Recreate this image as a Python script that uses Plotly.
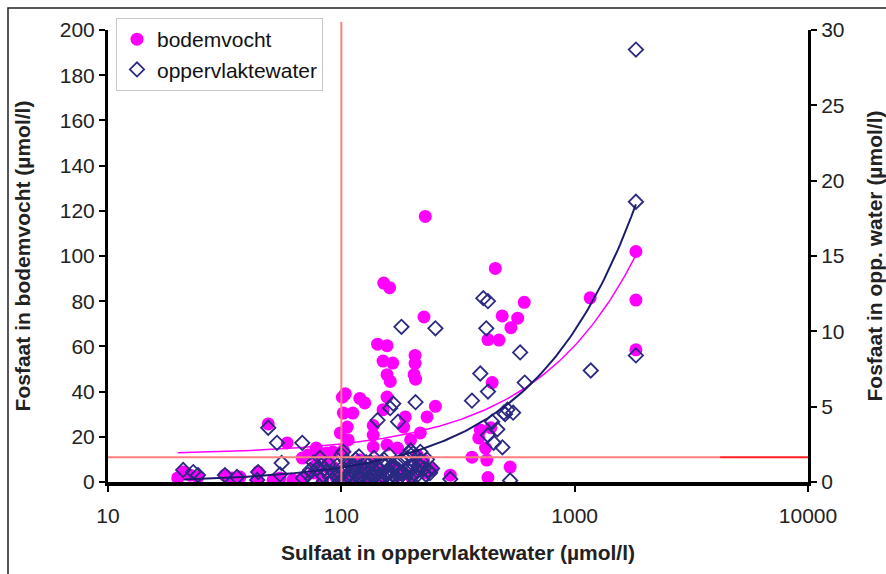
import numpy as np
import plotly.graph_objects as go

# ---------------- data ----------------
# bodemvocht: x = sulfaat (umol/l), y = fosfaat in bodemvocht (umol/l, left axis)
bodem_x = [1830, 1830, 1830, 1165, 229, 152, 161, 457, 226, 608,
           489, 570, 533, 425, 474, 143, 157, 151, 166, 157,
           162, 207, 207, 205, 208, 443,
           101, 104, 120, 126, 157, 151, 253, 233, 102, 112,
           106, 99, 137, 137, 188, 185, 218, 198, 107, 102,
           137, 157, 174, 211, 225, 120, 87, 92, 124, 167,
           211, 240, 293, 185, 147, 394, 388, 415, 363, 420,
           425, 529, 437,
           48.6, 58.6, 72, 81, 88, 68, 78, 92, 19.9, 21,
           22.5, 24.3, 31.7, 34, 36.8, 43.6, 44, 51, 54.6, 62,
           68.5, 76, 78, 87, 83,
           95, 105, 115, 130, 150, 175, 200, 230, 245, 110, 140]
bodem_y = [102, 80.5, 58.5, 81.5, 117.5, 88, 86, 94.5, 73, 79.5,
           73.5, 72.5, 68.3, 63, 62.8, 61, 60.3, 53.5, 52.6, 47.5,
           44.5, 56, 52.5, 47.5, 45.5, 44,
           37.5, 39, 37, 35, 37.6, 32, 33.5, 28.8, 30.5, 30.5,
           24.3, 21.7, 25, 20.8, 28.8, 24.3, 21.7, 18.6, 18.6, 14,
           15.5, 16.4, 15, 12, 9.7, 9.7, 12.8, 6.6, 5.3, 6.6,
           6.6, 5.3, 3, 4, 4.4, 23, 19.5, 15, 11, 9.7,
           2, 6.6, 24,
           25.7, 17.3, 12, 12.8, 9.7, 10.6, 15, 13.3, 1.8, 4.4,
           3, 2.2, 3, 1.8, 2.2, 0.9, 4.4, 0.9, 1.8, 0.9,
           1.8, 4, 7.5, 6.6, 0.9,
           2, 3, 1.5, 2.5, 1, 3, 2, 4, 5.5, 8, 9]

# oppervlaktewater: x = sulfaat (umol/l), y = fosfaat in opp. water (umol/l, right axis)
opp_x = [1830, 1830, 1830, 1172, 406, 425, 418, 181, 253, 584,
         611, 394, 363, 425, 208, 167, 162, 143, 175, 515,
         545, 497, 503, 443, 466, 425, 450, 490, 245, 293,
         529, 198, 218, 48.6, 53, 68, 55.5, 54.6, 21, 23.2,
         24.3, 31.7, 35.7, 44, 43.6, 68.5, 73.6, 76, 81, 85,
         89.5, 96, 100,
         98, 101, 103, 106, 108, 110, 113, 115, 118, 120,
         123, 125, 128, 130, 133, 135, 138, 140, 143, 146,
         150, 153, 157, 160, 165, 170, 175, 180, 185, 190,
         195, 200, 205, 212, 220, 226, 230, 236, 93, 88,
         84, 79, 75, 102, 233, 203,
         99, 104, 109, 112, 117, 121, 126, 131, 136, 141,
         148, 155, 162, 168, 178, 188, 198, 210, 222, 240,
         105, 119, 134, 152, 172, 192, 215, 91, 86, 72,
         107, 124, 144, 163, 183,
         100, 111, 127, 139, 158, 176, 196, 218, 95, 82]
opp_y = [28.7, 18.6, 8.4, 7.4, 12.2, 12.0, 10.2, 10.3, 10.2, 8.6,
         6.6, 7.2, 5.4, 6.0, 5.3, 5.2, 4.9, 4.1, 4.0, 4.8,
         4.6, 4.6, 4.5, 4.0, 3.5, 3.1, 2.6, 2.3, 0.9, 0.2,
         0.1, 2.1, 2.0, 3.6, 2.6, 2.6, 1.26, 0.5, 0.8, 0.66,
         0.46, 0.46, 0.33, 0.66, 0.13, 0.26, 0.8, 1.3, 1.6, 0.9,
         0.33, 1.1, 1.8,
         0.3, 0.1, 0.8, 0.4, 1.2, 0.2, 0.7, 1.5, 0.3, 1.0,
         0.5, 0.1, 1.3, 0.6, 0.2, 0.9, 1.6, 0.4, 0.1, 0.8,
         1.2, 0.3, 0.7, 1.8, 0.5, 1.0, 0.2, 1.4, 0.6, 0.9,
         1.9, 0.4, 1.1, 0.7, 1.4, 0.9, 0.5, 0.8, 0.6, 1.2,
         0.4, 0.9, 0.2, 2.0, 1.5, 1.9,
         0.6, 0.2, 0.5, 1.0, 0.1, 0.4, 0.8, 0.3, 0.5, 1.1,
         0.2, 0.5, 0.3, 0.9, 0.6, 0.3, 1.0, 0.4, 0.2, 0.6,
         1.4, 1.7, 1.3, 1.5, 1.2, 1.6, 1.1, 0.1, 0.7, 0.5,
         0.1, 0.05, 0.15, 0.05, 0.1,
         0.9, 1.1, 0.9, 0.7, 1.2, 0.8, 0.7, 1.0, 0.4, 1.1]

# linear trendlines (intercept, slope)
trend_bodem = (12.0, 0.0483)
trend_opp = (-0.05, 0.0101)

# reference (threshold) lines
ref_sulfaat = 100
ref_fosfaat = 11

x_ticks = [10, 100, 1000, 10000]
x_ticktext = ["10", "100", "1000", "10000"]
y_left_range = [0, 200]
y_right_range = [0, 30]

# ---------------- figure ----------------
FONT = "Liberation Sans, Arial, sans-serif"
MAGENTA = "#ff00ff"
NAVY = "#2a2a82"

fig = go.Figure()

fig.add_trace(go.Scatter(
    x=bodem_x, y=bodem_y, mode="markers", name="bodemvocht",
    marker=dict(symbol="circle", size=13, color=MAGENTA, line=dict(width=0)),
    yaxis="y"))

fig.add_trace(go.Scatter(
    x=opp_x, y=opp_y, mode="markers", name="oppervlaktewater",
    marker=dict(symbol="diamond-open", size=11, color=NAVY, line=dict(width=1.8, color=NAVY)),
    yaxis="y2"))

tx_b = np.logspace(np.log10(min(bodem_x)), np.log10(max(bodem_x)), 200)
fig.add_trace(go.Scatter(
    x=tx_b, y=trend_bodem[0] + trend_bodem[1] * tx_b, mode="lines",
    line=dict(color=MAGENTA, width=1.5), showlegend=False, hoverinfo="skip", yaxis="y"))

tx_o = np.logspace(np.log10(min(opp_x)), np.log10(max(opp_x)), 200)
fig.add_trace(go.Scatter(
    x=tx_o, y=trend_opp[0] + trend_opp[1] * tx_o, mode="lines",
    line=dict(color="#1c1c6e", width=2), showlegend=False, hoverinfo="skip", yaxis="y2"))

# geometry
L, R, T, B = 108, 78, 30, 92
W, H = 886, 574
pw, ph = W - L - R, H - T - B

xmin, xmax = np.log10(x_ticks[0]), np.log10(x_ticks[-1])
ref_x_paper = (np.log10(ref_sulfaat) - xmin) / (xmax - xmin)
split_paper = (np.log10(4200) - xmin) / (xmax - xmin)

shapes = [
    # vertical threshold line (extends slightly above the plot)
    dict(type="line", xref="paper", yref="paper", x0=ref_x_paper, x1=ref_x_paper,
         y0=0, y1=(482 - 22) / ph, line=dict(color="#ff7f7f", width=2), layer="above"),
    # horizontal threshold line
    dict(type="line", xref="paper", yref="y", x0=0, x1=split_paper,
         y0=ref_fosfaat, y1=ref_fosfaat, line=dict(color="#ff7f7f", width=2), layer="above"),
    dict(type="line", xref="paper", yref="y", x0=split_paper, x1=1,
         y0=ref_fosfaat, y1=ref_fosfaat, line=dict(color="#ff2020", width=2), layer="above"),
    # outer chart frame
    dict(type="rect", xref="paper", yref="paper",
         x0=(8 - L) / pw, x1=(W + 5 - L) / pw, y0=-(H + 5 - 482) / ph, y1=(482 - 8) / ph,
         line=dict(color="#222", width=1.5), layer="below"),
]

axis_common = dict(showgrid=False, zeroline=False, showline=True, linecolor="black",
                   ticks="outside", tickcolor="black", tickwidth=2, ticklen=6,
                   automargin=False,
                   tickfont=dict(family=FONT, size=21, color="#222"))

fig.update_layout(
    width=W, height=H,
    margin=dict(l=L, r=R, t=T, b=B),
    paper_bgcolor="white", plot_bgcolor="white",
    shapes=shapes,
    xaxis=dict(type="log", range=[xmin, xmax], tickvals=x_ticks, ticktext=x_ticktext,
               linewidth=4, ticklabelstandoff=6, **axis_common,
               title=dict(text="<b>Sulfaat in oppervlaktewater (µmol/l)</b>",
                          font=dict(family=FONT, size=21, color="#222"), standoff=20)),
    yaxis=dict(range=y_left_range, dtick=20, linewidth=3, **axis_common,
               title=dict(text="<b>Fosfaat in bodemvocht (µmol/l)</b>",
                          font=dict(family=FONT, size=21, color="#222"), standoff=24)),
    yaxis2=dict(range=y_right_range, dtick=5, overlaying="y", side="right",
                linewidth=3, **axis_common,
                title=dict(text="<b>Fosfaat in opp. water (µmol/l)</b>",
                           font=dict(family=FONT, size=21, color="#222"), standoff=25)),
    legend=dict(x=(116 - L) / pw, y=(482 - 18) / ph, xanchor="left", yanchor="top",
                bgcolor="white", bordercolor="#c8c8c8", borderwidth=1,
                font=dict(family=FONT, size=21, color="#111"), itemwidth=30,
                tracegroupgap=0),
    showlegend=True,
)

fig.write_html("out.html")
